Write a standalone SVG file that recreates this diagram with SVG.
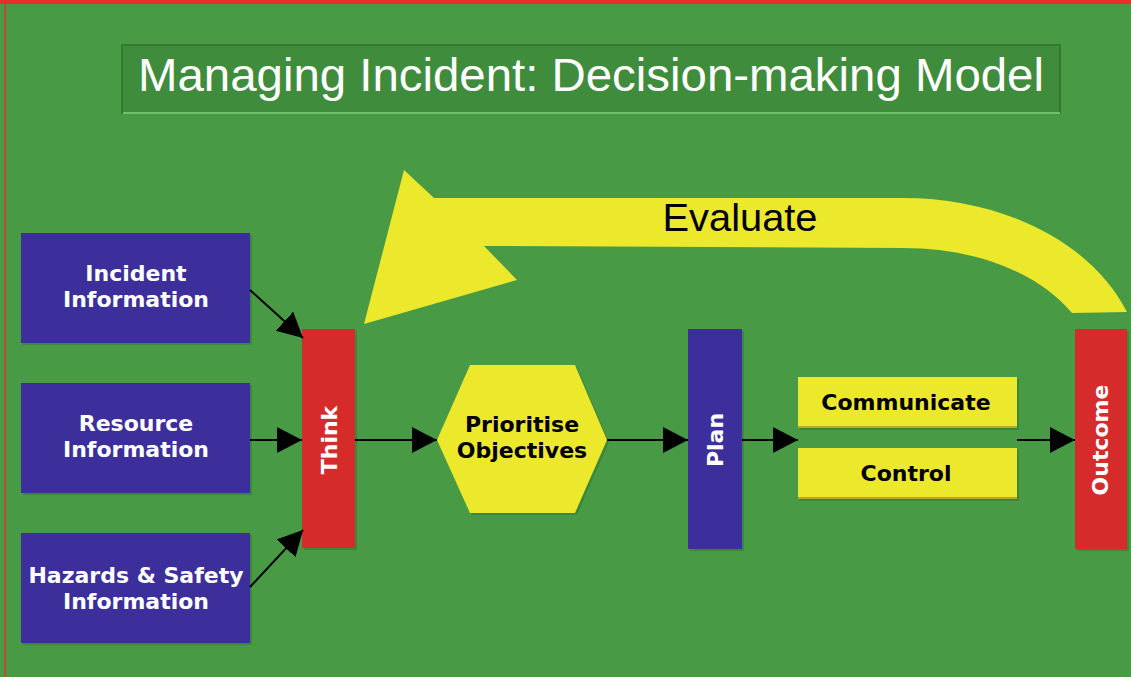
<svg xmlns="http://www.w3.org/2000/svg" width="1131" height="677" viewBox="0 0 1131 677">
<style>
.lbl{font-family:"DejaVu Sans",Verdana,sans-serif;font-weight:bold;font-size:22px;text-anchor:middle}
.w{fill:#ffffff}
.k{fill:#000000}
.blue{fill:#3c2f9c}
.red{fill:#d62b2b}
.yel{fill:#ece82c}
.sh{fill:#2f6e2d;opacity:0.45}
.conn{stroke:#000;stroke-width:2;fill:none;marker-end:url(#ah)}
</style>
<defs>
<marker id="ah" markerUnits="userSpaceOnUse" markerWidth="26" markerHeight="28" refX="25" refY="13" orient="auto">
<path d="M0,0 L25,13 L0,26 Z" fill="#000"/>
</marker>
</defs>
<rect x="0" y="0" width="1131" height="677" fill="#489b44"/>
<rect x="0" y="0" width="1131" height="4" fill="#e8302a"/>
<rect x="4.5" y="0" width="1.5" height="677" fill="#e8302a"/>

<g id="title">
<rect x="122" y="45" width="938" height="68" fill="#3f8c3c" stroke="#347a31" stroke-width="2"/>
<line x1="123" y1="113" x2="1060" y2="113" stroke="#6cc066" stroke-width="2"/>
<text x="591" y="91" font-family="Liberation Sans, Arial, sans-serif" font-size="46" fill="#ffffff" text-anchor="middle" textLength="906" lengthAdjust="spacingAndGlyphs">Managing Incident: Decision-making Model</text>
</g>

<g id="evaluate">
<path d="M364,324 L404,170 L434,198 L903,198 C1000,198 1090,240 1127,312 L1072,313 C1040,275 980,248 903,248 L484,246 L517,280 Z" fill="#ece82c"/>
<text x="740" y="231" font-family="Liberation Sans, Arial, sans-serif" font-size="39" fill="#000" text-anchor="middle" textLength="155" lengthAdjust="spacingAndGlyphs">Evaluate</text>
</g>

<g id="incident">
<rect x="23" y="235" width="229" height="110" class="sh"/>
<rect x="21" y="233" width="229" height="110" class="blue"/>
<text class="lbl w" x="136" y="281">Incident</text>
<text class="lbl w" x="136" y="307">Information</text>
</g>
<g id="resource">
<rect x="23" y="385" width="229" height="110" class="sh"/>
<rect x="21" y="383" width="229" height="110" class="blue"/>
<text class="lbl w" x="136" y="431">Resource</text>
<text class="lbl w" x="136" y="457">Information</text>
</g>
<g id="hazards">
<rect x="23" y="535" width="229" height="110" class="sh"/>
<rect x="21" y="533" width="229" height="110" class="blue"/>
<text class="lbl w" x="136" y="583">Hazards &amp; Safety</text>
<text class="lbl w" x="136" y="609">Information</text>
</g>

<g id="think">
<rect x="304" y="331" width="53" height="219" class="sh"/>
<rect x="302" y="329" width="53" height="219" class="red"/>
<text class="lbl w" transform="translate(337,440) rotate(-90)">Think</text>
</g>

<g id="prioritise">
<polygon points="439,442 472,367 577,367 609,442 577,515 472,515" class="sh"/>
<polygon points="437,440 470,365 575,365 607,440 575,513 470,513" class="yel"/>
<text class="lbl k" x="522" y="432">Prioritise</text>
<text class="lbl k" x="522" y="458">Objectives</text>
</g>

<g id="plan">
<rect x="690" y="331" width="54" height="220" class="sh"/>
<rect x="688" y="329" width="54" height="220" class="blue"/>
<text class="lbl w" transform="translate(723,440) rotate(-90)">Plan</text>
</g>

<g id="communicate">
<rect x="800" y="379" width="219" height="51" class="sh"/>
<rect x="798" y="377" width="219" height="51" class="yel"/>
<line x1="798" y1="427" x2="1017" y2="427" stroke="#b8a82a" stroke-width="2"/>
<text class="lbl k" x="906" y="410">Communicate</text>
</g>
<g id="control">
<rect x="800" y="450" width="219" height="51" class="sh"/>
<rect x="798" y="448" width="219" height="51" class="yel"/>
<line x1="798" y1="498" x2="1017" y2="498" stroke="#b8a82a" stroke-width="2"/>
<text class="lbl k" x="906" y="481">Control</text>
</g>

<g id="outcome">
<rect x="1077" y="331" width="52" height="220" class="sh"/>
<rect x="1075" y="329" width="52" height="220" class="red"/>
<text class="lbl w" transform="translate(1108,440) rotate(-90)">Outcome</text>
</g>

<g id="connectors">
<line class="conn" x1="250" y1="290" x2="303" y2="338"/>
<line class="conn" x1="250" y1="440" x2="302" y2="440"/>
<line class="conn" x1="250" y1="587" x2="303" y2="530"/>
<line class="conn" x1="355" y1="440" x2="437" y2="440"/>
<line class="conn" x1="607" y1="440" x2="688" y2="440"/>
<line class="conn" x1="742" y1="440" x2="798" y2="440"/>
<line class="conn" x1="1017" y1="440" x2="1075" y2="440"/>
</g>
</svg>
